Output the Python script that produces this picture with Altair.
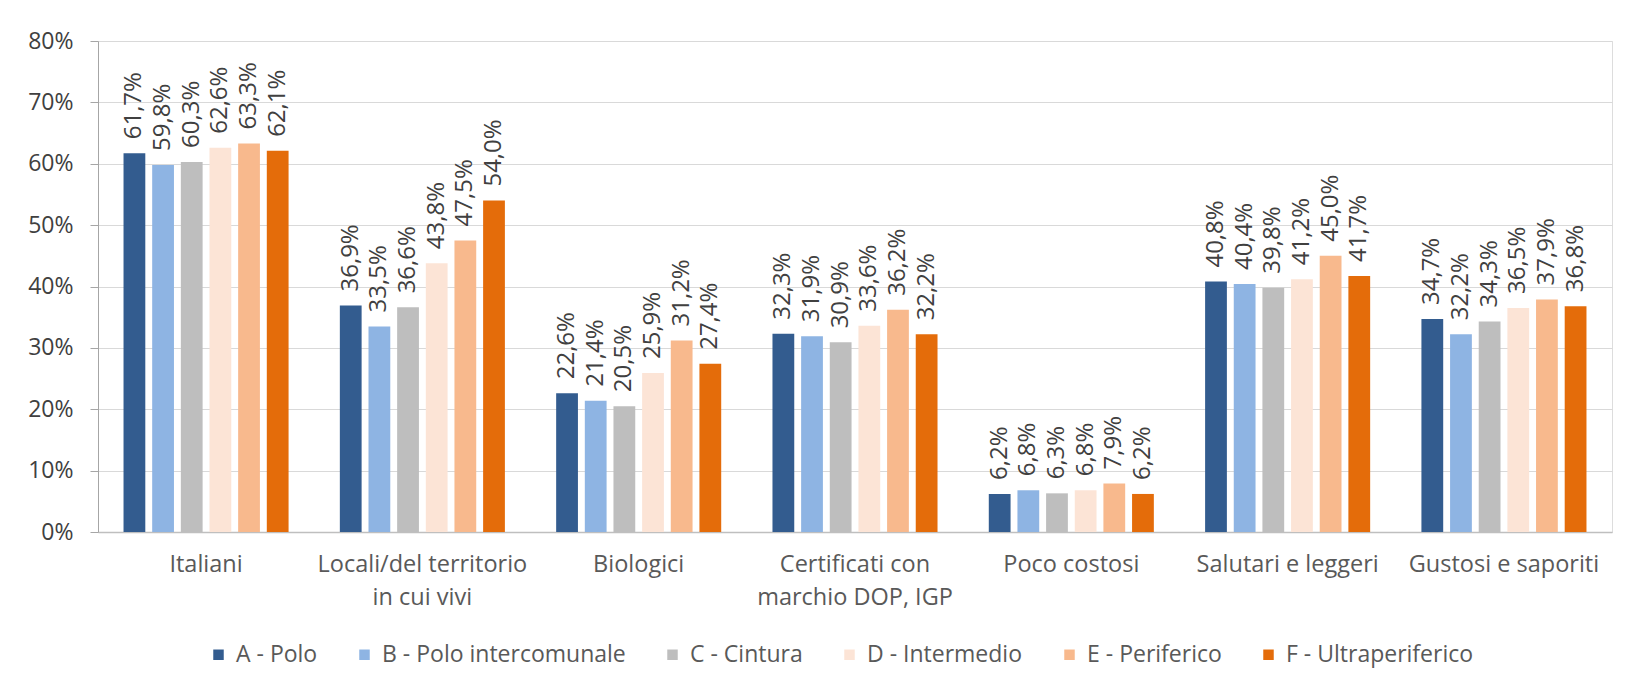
import altair as alt
import pandas as pd

categories = [
    "Italiani",
    "Locali/del territorio\nin cui vivi",
    "Biologici",
    "Certificati con\nmarchio DOP, IGP",
    "Poco costosi",
    "Salutari e leggeri",
    "Gustosi e saporiti",
]
series = [
    "A - Polo",
    "B - Polo intercomunale",
    "C - Cintura",
    "D - Intermedio",
    "E - Periferico",
    "F - Ultraperiferico",
]
colors = ["#335C8F", "#8EB4E3", "#BEBEBE", "#FCE4D6", "#F8B98D", "#E46C0A"]

vals_A = [61.7, 36.9, 22.6, 32.3, 6.2, 40.8, 34.7]
vals_B = [59.8, 33.5, 21.4, 31.9, 6.8, 40.4, 32.2]
vals_C = [60.3, 36.6, 20.5, 30.9, 6.3, 39.8, 34.3]
vals_D = [62.6, 43.8, 25.9, 33.6, 6.8, 41.2, 36.5]
vals_E = [63.3, 47.5, 31.2, 36.2, 7.9, 45.0, 37.9]
vals_F = [62.1, 54.0, 27.4, 32.2, 6.2, 41.7, 36.8]
all_vals = [vals_A, vals_B, vals_C, vals_D, vals_E, vals_F]

rows = []
for s, vals in zip(series, all_vals):
    for c, v in zip(categories, vals):
        rows.append({"cat": c, "serie": s, "v": v,
                     "lab": f"{v:.1f}%".replace(".", ",")})
df = pd.DataFrame(rows)

FONT = "Open Sans"

x_enc = alt.X("cat:N", sort=categories, title=None,
              scale=alt.Scale(paddingInner=0.237, paddingOuter=0.118),
              axis=alt.Axis(labelAngle=0, labelExpr="split(datum.label, '\\n')",
                            labelFontSize=23.5, labelColor="#595959", labelFont=FONT,
                            labelPadding=20, labelLineHeight=33, ticks=False,
                            labelLimit=0,
                            domainColor="#BFBFBF", domainWidth=1.5, grid=False,
                            labelBaseline="top"))
xoff = alt.XOffset("serie:N", sort=series,
                   scale=alt.Scale(paddingInner=0.24, paddingOuter=0.0))
y_enc = alt.Y("v:Q", title=None,
              scale=alt.Scale(domain=[0, 80], nice=False),
              axis=alt.Axis(values=[0, 10, 20, 30, 40, 50, 60, 70, 80],
                            labelExpr="datum.value + '%'",
                            labelFontSize=23, labelColor="#404040", labelFont=FONT,
                            labelPadding=17, tickSize=8, tickColor="#A6A6A6",
                            domainColor="#A6A6A6", gridColor="#D9D9D9", gridWidth=1.2))

base = alt.Chart(df).encode(x=x_enc, xOffset=xoff)

bars = base.mark_bar().encode(
    y=y_enc,
    color=alt.Color("serie:N", sort=series,
                    scale=alt.Scale(domain=series, range=colors),
                    legend=alt.Legend(title=None, orient="none", direction="horizontal",
                                      columns=6, legendX=109, legendY=602,
                                      symbolType="square", symbolSize=110,
                                      symbolStrokeWidth=0, labelOffset=6,
                                      columnPadding=35, labelFontSize=23,
                                      labelLimit=0,
                                      labelFont=FONT, labelColor="#595959")),
)

texts = base.mark_text(angle=270, align="left", baseline="middle", dx=14,
                       fontSize=24, font=FONT, color="#404040").encode(
    y=alt.Y("v:Q", scale=alt.Scale(domain=[0, 80], nice=False)),
    text="lab:N",
)

chart = (bars + texts).properties(
    width=1514, height=491,
    autosize=alt.AutoSizeParams(type="none"),
    padding={"left": 90, "top": 33, "right": 20, "bottom": 140},
).configure_view(stroke=None).configure(background="white")

chart.save("out.html", embed_options={"renderer": "svg", "actions": False})
